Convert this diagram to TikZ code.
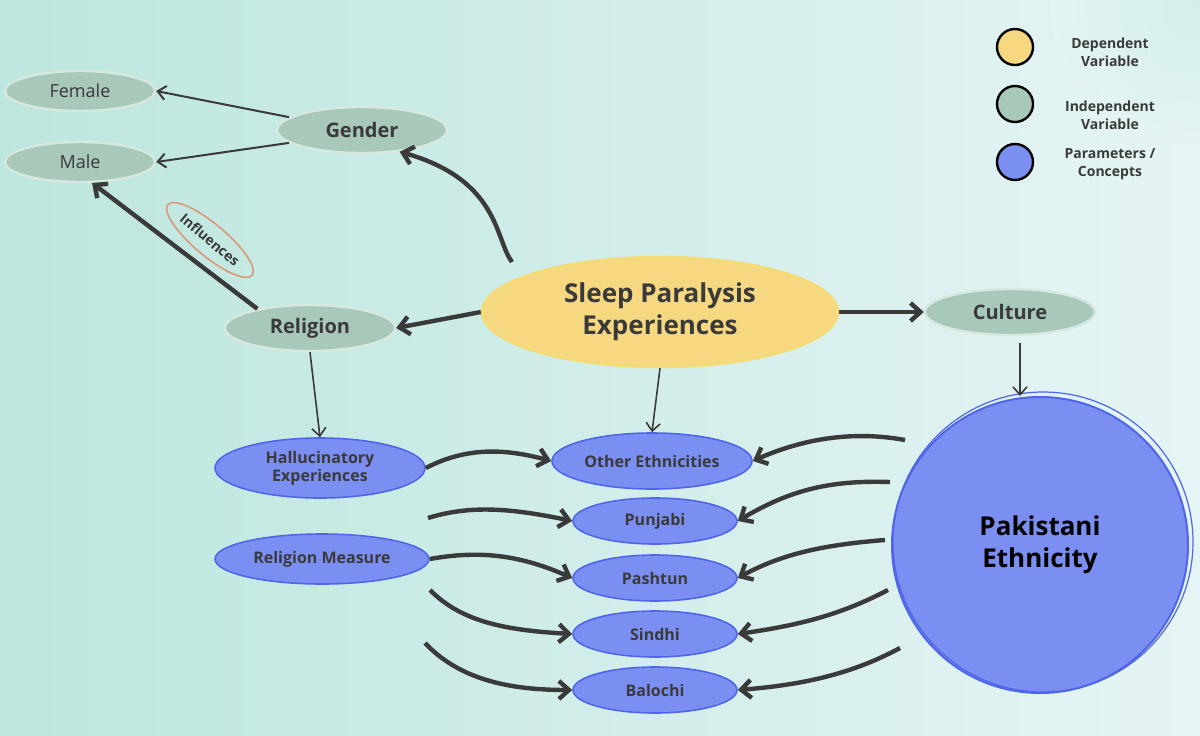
\documentclass[tikz,border=0pt]{standalone}
\usepackage{fontspec}
\setmainfont{Open Sans}
\usetikzlibrary{shapes.geometric,arrows.meta}
\definecolor{gn}{HTML}{A8C8BA}
\definecolor{gnl}{HTML}{D6E8E0}
\definecolor{yl}{HTML}{F6D880}
\definecolor{bl}{HTML}{7B8FF2}
\definecolor{bll}{HTML}{4F66E8}
\definecolor{dk}{HTML}{3A3A3A}
\begin{document}
\begin{tikzpicture}[x=0.5pt,y=-0.5pt,
 el/.style={ellipse,inner sep=0pt,align=center,font=\bfseries,text=dk},
 g/.style={el,fill=gn,draw=gnl,line width=1.2pt},
 b/.style={el,fill=bl,draw=bll,line width=0.8pt,font=\bfseries\fontsize{8}{9}\selectfont},
 ar/.style={draw=dk,line width=2.2pt,-{Straight Barb[length=5pt,width=9pt]}},
 thin/.style={draw=dk,line width=0.8pt,-{Straight Barb[length=4pt,width=7pt]}}]
\useasboundingbox (0,0) rectangle (1200,735);
\begin{scope}
\clip (0,0) rectangle (1200,735);
\shade[left color={rgb,1:red,0.74;green,0.9;blue,0.87},right color={rgb,1:red,0.9;green,0.96;blue,0.96}] (0,0) rectangle (1200,735);
\shade[inner color={rgb,1:red,0.78;green,0.92;blue,0.9},outer color={rgb,1:red,0.9;green,0.96;blue,0.96},opacity=0.6] (1200,0) circle (150);
\end{scope}
% nodes
\node[g,minimum width=75pt,minimum height=20pt,font=\fontsize{9}{10}\selectfont] (fem) at (80,91) {Female};
\node[g,minimum width=75pt,minimum height=20pt,font=\fontsize{9}{10}\selectfont] (male) at (80,162) {Male};
\node[g,minimum width=85pt,minimum height=23pt,font=\bfseries\fontsize{10}{12}\selectfont] (gen) at (362,130) {Gender};
\node[g,minimum width=85pt,minimum height=23pt,font=\bfseries\fontsize{10}{12}\selectfont] (rel) at (310,328) {Religion};
\node[g,minimum width=85pt,minimum height=23pt,font=\bfseries\fontsize{10}{12}\selectfont] (cul) at (1010,312) {Culture};
\node[el,fill=yl,draw={rgb,1:red,0.96;green,0.86;blue,0.45},line width=1.2pt,minimum width=178pt,minimum height=55pt,font=\bfseries\fontsize{13}{16}\selectfont] (sp) at (660,312) {Sleep Paralysis\\Experiences};
\node[el,draw={rgb,1:red,0.85;green,0.6;blue,0.48},line width=0.8pt,minimum width=55pt,minimum height=16pt,rotate=-40,font=\bfseries\fontsize{7}{8}\selectfont] (inf) at (210,240) {Influences};
\node[b,minimum width=105pt,minimum height=30pt] (hal) at (320,468) {Hallucinatory\\Experiences};
\node[b,minimum width=107pt,minimum height=25pt] (rm) at (322,559) {Religion Measure};
\node[b,minimum width=100pt,minimum height=28pt] (oth) at (652,461) {Other Ethnicities};
\node[b,minimum width=82pt,minimum height=23pt] (pun) at (655,521) {Punjabi};
\node[b,minimum width=82pt,minimum height=23pt] (pas) at (655,578) {Pashtun};
\node[b,minimum width=82pt,minimum height=23pt] (sin) at (655,634) {Sindhi};
\node[b,minimum width=82pt,minimum height=23pt] (bal) at (655,690) {Balochi};
\node[circle,fill=bl,draw=bll,line width=1pt,minimum size=148pt,align=center,font=\bfseries\fontsize{13}{16}\selectfont,text=black] (pak) at (1040,545) {Pakistani\\Ethnicity};
\draw[bll,line width=0.6pt] (1043,542) circle (150);
% legend
\node[circle,fill=yl,draw=black,line width=1.2pt,minimum size=18pt] (l1) at (1015,47) {};
\node[circle,fill=gn,draw=black,line width=1.2pt,minimum size=18pt] (l2) at (1015,104) {};
\node[circle,fill=bl,draw=black,line width=1.2pt,minimum size=18pt] (l3) at (1015,162) {};
\node[align=center,font=\bfseries\fontsize{7}{9}\selectfont,text=dk] (t1) at (1110,52) {Dependent\\Variable};
\node[align=center,font=\bfseries\fontsize{7}{9}\selectfont,text=dk] (t2) at (1110,115) {Independent\\Variable};
\node[align=center,font=\bfseries\fontsize{7}{9}\selectfont,text=dk] (t3) at (1110,164) {Parameters /\\Concepts};
\coordinate (spg) at (512,262);
\coordinate (ctop) at (1020,343);
% arrows
\draw[thin,line width=1pt] (gen.170) -- (fem.east);
\draw[thin,line width=1pt] (gen.190) -- (male.east);
\draw[ar] (rel.160) -- (male.300);
\draw[ar] (spg) .. controls (495,240) and (500,180) .. (gen.330);
\draw[ar] (sp.west) -- (rel.east);
\draw[ar] (sp.east) -- (cul.west);
\draw[thin] (sp.south) -- (oth.north);
\draw[thin] (ctop) -- (pak.north -| ctop);
\draw[thin] (rel.south) -- (hal.north);
\draw[ar] (hal.east) .. controls (470,445) and (510,450) .. (oth.west);
\draw[ar] (428,518) .. controls (470,505) and (510,508) .. (pun.west);
\draw[ar] (rm.east) .. controls (480,550) and (520,555) .. (pas.west);
\draw[ar] (430,590) .. controls (460,620) and (500,630) .. (sin.west);
\draw[ar] (425,643) .. controls (460,680) and (510,690) .. (bal.west);
\draw[ar] (905,440) .. controls (850,430) and (800,440) .. (oth.east);
\draw[ar] (890,482) .. controls (830,480) and (790,490) .. (pun.east);
\draw[ar] (885,540) .. controls (820,545) and (780,555) .. (pas.east);
\draw[ar] (888,590) .. controls (840,615) and (800,625) .. (sin.east);
\draw[ar] (900,648) .. controls (850,675) and (800,685) .. (bal.east);
\end{tikzpicture}
\end{document}
